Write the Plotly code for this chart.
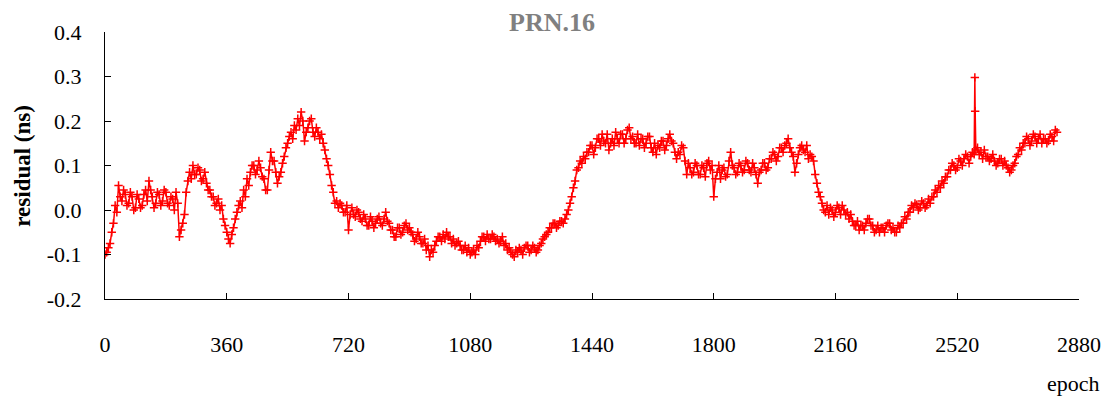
import plotly.graph_objects as go

epoch_step = 5
residual = [
    -0.100, -0.095, -0.085, -0.075, -0.050, -0.030, 0.010, -0.005, 0.055, 0.030, 0.020, 0.045, 0.035, 0.010, 0.015, 0.040, 0.030, 0.000, 0.005, 0.035,
    0.025, 0.005, 0.010, 0.035, 0.045, 0.020, 0.065, 0.045, 0.030, 0.005, 0.015, 0.040, 0.035, 0.010, 0.020, 0.045, 0.040, 0.015, 0.010, 0.030,
    0.025, 0.000, 0.040, 0.015, -0.060, -0.045, -0.030, -0.010, 0.040, 0.065, 0.085, 0.070, 0.100, 0.080, 0.080, 0.095, 0.090, 0.065, 0.070, 0.085,
    0.060, 0.045, 0.045, 0.030, 0.030, 0.010, 0.015, 0.025, 0.000, 0.010, -0.020, -0.035, -0.050, -0.065, -0.075, -0.055, -0.040, -0.020, -0.005, 0.010,
    0.020, 0.005, 0.045, 0.030, 0.070, 0.055, 0.085, 0.100, 0.100, 0.080, 0.090, 0.110, 0.095, 0.075, 0.070, 0.045, 0.045, 0.090, 0.130, 0.110,
    0.110, 0.085, 0.060, 0.075, 0.085, 0.105, 0.120, 0.140, 0.150, 0.165, 0.175, 0.160, 0.190, 0.180, 0.205, 0.190, 0.220, 0.200, 0.155, 0.175,
    0.185, 0.200, 0.205, 0.175, 0.165, 0.185, 0.175, 0.160, 0.170, 0.150, 0.135, 0.115, 0.100, 0.080, 0.055, 0.040, 0.015, 0.020, 0.005, 0.015,
    0.010, -0.005, -0.005, 0.010, -0.045, -0.010, 0.005, -0.010, -0.015, 0.000, -0.005, -0.020, -0.025, -0.010, -0.020, -0.035, -0.035, -0.015, -0.025, -0.040,
    -0.030, -0.020, -0.015, -0.030, -0.035, -0.020, -0.005, -0.025, -0.030, -0.045, -0.045, -0.060, -0.060, -0.040, -0.040, -0.055, -0.050, -0.035, -0.030, -0.045,
    -0.040, -0.050, -0.055, -0.070, -0.065, -0.050, -0.060, -0.075, -0.075, -0.065, -0.090, -0.080, -0.105, -0.090, -0.095, -0.080, -0.070, -0.060, -0.060, -0.070,
    -0.055, -0.065, -0.050, -0.060, -0.060, -0.075, -0.065, -0.080, -0.075, -0.070, -0.080, -0.090, -0.090, -0.080, -0.095, -0.085, -0.100, -0.095, -0.090, -0.100,
    -0.080, -0.085, -0.070, -0.060, -0.060, -0.070, -0.055, -0.065, -0.065, -0.055, -0.060, -0.070, -0.065, -0.075, -0.070, -0.060, -0.080, -0.075, -0.090, -0.085,
    -0.095, -0.100, -0.105, -0.090, -0.095, -0.085, -0.090, -0.100, -0.085, -0.080, -0.080, -0.095, -0.090, -0.080, -0.085, -0.095, -0.090, -0.080, -0.075, -0.065,
    -0.060, -0.055, -0.050, -0.040, -0.040, -0.030, -0.030, -0.040, -0.035, -0.025, -0.025, -0.030, -0.020, -0.010, 0.000, 0.015, 0.030, 0.050, 0.065, 0.090,
    0.095, 0.110, 0.105, 0.120, 0.115, 0.130, 0.130, 0.145, 0.145, 0.125, 0.140, 0.160, 0.160, 0.145, 0.170, 0.155, 0.150, 0.170, 0.135, 0.150,
    0.160, 0.145, 0.175, 0.160, 0.150, 0.170, 0.170, 0.150, 0.160, 0.180, 0.185, 0.160, 0.165, 0.150, 0.150, 0.170, 0.145, 0.160, 0.160, 0.140,
    0.150, 0.165, 0.165, 0.140, 0.130, 0.150, 0.125, 0.145, 0.140, 0.155, 0.155, 0.135, 0.145, 0.160, 0.170, 0.155, 0.150, 0.130, 0.115, 0.130,
    0.125, 0.145, 0.140, 0.110, 0.080, 0.105, 0.095, 0.080, 0.085, 0.105, 0.100, 0.080, 0.080, 0.100, 0.095, 0.075, 0.105, 0.110, 0.090, 0.100,
    0.030, 0.070, 0.085, 0.100, 0.070, 0.090, 0.095, 0.075, 0.080, 0.110, 0.130, 0.100, 0.095, 0.080, 0.085, 0.105, 0.100, 0.085, 0.090, 0.110,
    0.105, 0.090, 0.085, 0.105, 0.095, 0.080, 0.060, 0.085, 0.090, 0.105, 0.105, 0.090, 0.095, 0.115, 0.115, 0.130, 0.125, 0.110, 0.120, 0.140,
    0.140, 0.130, 0.145, 0.150, 0.160, 0.140, 0.130, 0.120, 0.085, 0.105, 0.125, 0.140, 0.145, 0.135, 0.130, 0.145, 0.115, 0.125, 0.120, 0.110,
    0.080, 0.060, 0.040, 0.030, 0.015, 0.000, -0.005, 0.010, -0.010, 0.005, 0.000, -0.015, -0.005, 0.010, 0.005, -0.010, 0.010, 0.000, -0.010, -0.005,
    -0.020, -0.010, -0.025, -0.035, -0.035, -0.025, -0.045, -0.035, -0.035, -0.045, -0.030, -0.020, -0.020, -0.035, -0.035, -0.050, -0.045, -0.035, -0.050, -0.040,
    -0.040, -0.050, -0.035, -0.030, -0.030, -0.045, -0.040, -0.050, -0.050, -0.035, -0.040, -0.030, -0.030, -0.015, -0.020, -0.005, -0.005, 0.010, 0.005, 0.015,
    0.012, 0.000, 0.005, 0.020, 0.015, 0.005, 0.010, 0.025, 0.015, 0.030, 0.030, 0.045, 0.040, 0.055, 0.050, 0.065, 0.060, 0.075, 0.075, 0.090,
    0.090, 0.105, 0.100, 0.090, 0.095, 0.115, 0.110, 0.100, 0.115, 0.125, 0.120, 0.105, 0.120, 0.130, 0.125, 0.135, 0.140, 0.125, 0.130, 0.115,
    0.135, 0.120, 0.120, 0.110, 0.115, 0.125, 0.110, 0.100, 0.105, 0.115, 0.115, 0.100, 0.110, 0.100, 0.095, 0.085, 0.090, 0.100, 0.105, 0.120,
    0.125, 0.140, 0.135, 0.150, 0.150, 0.165, 0.160, 0.145, 0.155, 0.170, 0.165, 0.150, 0.160, 0.170, 0.150, 0.160, 0.160, 0.150, 0.155, 0.170,
    0.165, 0.155, 0.180, 0.175,
]
# isolated outlier near epoch 2572
spike_epoch = [2572, 2573]
spike_residual = [0.298, 0.222]

x_ticks = [0, 360, 720, 1080, 1440, 1800, 2160, 2520, 2880]
y_ticks = [-0.2, -0.1, 0.0, 0.1, 0.2, 0.3, 0.4]
y_ticktext = ["-0.2", "-0.1", "0.0", "0.1", "0.2", "0.3", "0.4"]

pts = [(i * epoch_step, v) for i, v in enumerate(residual)]
pts += list(zip(spike_epoch, spike_residual))
pts.sort(key=lambda p: p[0])
xs = [p[0] for p in pts]
ys = [p[1] for p in pts]

fig = go.Figure()
fig.add_trace(go.Scatter(
    x=xs, y=ys, mode="lines+markers",
    line=dict(color="#ff0000", width=1.5),
    marker=dict(symbol="cross-thin", size=6, line=dict(color="#ff0000", width=1.5)),
    showlegend=False,
))

serif = "Liberation Serif"
fig.update_layout(
    width=1102, height=393,
    paper_bgcolor="white", plot_bgcolor="white",
    margin=dict(l=97, r=31, t=24, b=102),
    xaxis=dict(range=[0, 2880], tickvals=x_ticks, ticks="inside", ticklen=6,
               tickcolor="black", showline=True, linecolor="black", linewidth=1,
               showgrid=False, zeroline=False, ticklabelstandoff=26, automargin=False,
               tickfont=dict(family=serif, size=22, color="black")),
    yaxis=dict(range=[-0.2, 0.4], tickvals=y_ticks, ticktext=y_ticktext,
               ticks="inside", ticklen=6, tickcolor="black", showline=True,
               linecolor="black", linewidth=1, showgrid=False, zeroline=False,
               ticklabelstandoff=18, automargin=False,
               tickfont=dict(family=serif, size=22, color="black")),
    annotations=[
        dict(text="<b>PRN.16</b>", xref="paper", yref="paper", x=0.459, y=1.037,
             xanchor="center", yanchor="middle",
             showarrow=False, font=dict(family=serif, size=26, color="#808080")),
        dict(text="<b>residual (ns)</b>", xref="paper", yref="paper", x=-0.085, y=0.50,
             xanchor="center", yanchor="middle",
             textangle=-90, showarrow=False,
             font=dict(family=serif, size=23, color="black")),
        dict(text="epoch", xref="paper", yref="paper", x=0.994, y=-0.315,
             xanchor="center", yanchor="middle",
             showarrow=False, font=dict(family=serif, size=22, color="black")),
    ],
)

fig.write_html("out.html")
